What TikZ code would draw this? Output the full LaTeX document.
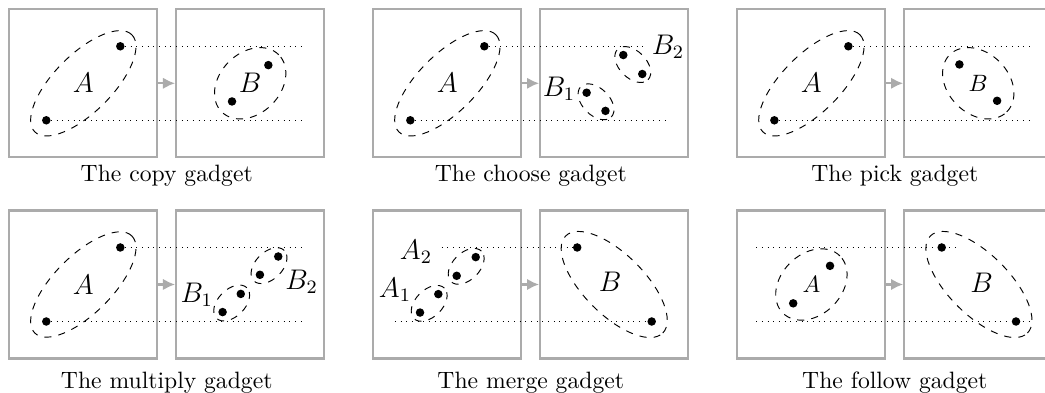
\documentclass[tikz,border=0pt]{standalone}
\usepackage{tikz}
\usetikzlibrary{arrows.meta, positioning}
\tikzset{
	blob/.pic={
			\draw[dashed] (0,0) ellipse (#1);
		}
}
\tikzset{
	frame/.style={draw=black!33, line width=0.9pt, rectangle, minimum size=2.2cm, inner sep=0pt}
}
\tikzset{
	elem/.style={circle, fill=black, inner sep=0pt, minimum size=3.6pt},
	flow/.style={draw=black!33, line width=0.9pt, -{Latex[length=1.8mm, width=1.7mm]}},
	setname/.style={font=\large},
	gadget/.style={anchor=base}
}

\begin{document}
\begin{tikzpicture}

			\useasboundingbox (-0.138,-3.489) rectangle (15.392,2.338);

			% copy
			\begin{scope}
				\node[frame] (cpin) at (1.1,1.1) {};
				\node[frame] (cpout) at (3.58,1.1) {};
				\draw[flow] (cpin) -- (cpout);

				\node[elem] (cpa1) at (0.55,0.55) {};
				\node[elem] (cpa2) at (1.65,1.65) {};
				\pic[rotate=45] at (1.1,1.1) {blob={1.02 and 0.43}};
				\node[setname] (cpA) at (1.1,1.1) {$A$};

				\node[elem] (cpb1) at (3.31,0.83) {};
				\node[elem] (cpb2) at (3.85,1.37) {};
				\pic[rotate=45] at (3.58,1.1) {blob={0.6 and 0.45}};
				\node[setname] (cpB) at (3.58,1.1) {$B$};

				\coordinate (cpe1) at (4.35,0.55);
				\coordinate (cpe2) at (4.35,1.65);
				\draw[dotted] (cpa1) -- (cpe1);
				\draw[dotted] (cpa2) -- (cpe2);

				\node[gadget] (cpcap) at (2.34,-0.36) {The copy gadget};
			\end{scope}

			% choose
			\begin{scope}[shift={{(5.41,0)}}]
				\node[frame] (chin) at (1.1,1.1) {};
				\node[frame] (chout) at (3.58,1.1) {};
				\draw[flow] (chin) -- (chout);

				\node[elem] (cha1) at (0.55,0.55) {};
				\node[elem] (cha2) at (1.65,1.65) {};
				\pic[rotate=45] at (1.1,1.1) {blob={1.02 and 0.43}};
				\node[setname] (chA) at (1.1,1.1) {$A$};

				\node[elem] (chb1) at (3.17,0.96) {};
				\node[elem] (chb2) at (3.45,0.69) {};
				\pic[rotate=-45] at (3.31,0.825) {blob={0.32 and 0.2}};
				\node[setname] (chB1) at (2.76,1.015) {$B_1$};

				\node[elem] (chb3) at (3.715,1.52) {};
				\node[elem] (chb4) at (3.997,1.238) {};
				\pic[rotate=-45] at (3.856,1.379) {blob={0.32 and 0.2}};
				\node[setname] (chB2) at (4.38,1.64) {$B_2$};

				\coordinate (che1) at (4.36,0.55);
				\coordinate (che2) at (4.08,1.65);
				\draw[dotted] (cha1) -- (che1);
				\draw[dotted] (cha2) -- (che2);

				\node[gadget] (chcap) at (2.34,-0.36) {The choose gadget};
			\end{scope}

			% pick
			\begin{scope}[shift={{(10.82,0)}}]
				\node[frame] (pkin) at (1.1,1.1) {};
				\node[frame] (pkout) at (3.58,1.1) {};
				\draw[flow] (pkin) -- (pkout);

				\node[elem] (pka1) at (0.55,0.55) {};
				\node[elem] (pka2) at (1.65,1.65) {};
				\pic[rotate=45] at (1.1,1.1) {blob={1.02 and 0.43}};
				\node[setname] (pkA) at (1.1,1.1) {$A$};

				\node[elem] (pkb1) at (3.30,1.38) {};
				\node[elem] (pkb2) at (3.86,0.84) {};
				\pic[rotate=-45] at (3.58,1.1) {blob={0.6 and 0.45}};
				\node (pkB) at (3.58,1.1) {$B$};

				\coordinate (pke1) at (4.37,0.55);
				\coordinate (pke2) at (4.37,1.65);
				\draw[dotted] (pka1) -- (pke1);
				\draw[dotted] (pka2) -- (pke2);

				\node[gadget] (pkcap) at (2.34,-0.36) {The pick gadget};
			\end{scope}

			% multiply
			\begin{scope}[shift={{(0,-2.99)}}]
				\node[frame] (mlin) at (1.1,1.1) {};
				\node[frame] (mlout) at (3.58,1.1) {};
				\draw[flow] (mlin) -- (mlout);

				\node[elem] (mla1) at (0.55,0.55) {};
				\node[elem] (mla2) at (1.65,1.65) {};
				\pic[rotate=45] at (1.1,1.1) {blob={1.02 and 0.43}};
				\node[setname] (mlA) at (1.1,1.1) {$A$};

				\node[elem] (mlb1) at (3.17,0.69) {};
				\node[elem] (mlb2) at (3.44,0.96) {};
				\pic[rotate=45] at (3.305,0.825) {blob={0.32 and 0.2}};
				\node[setname] (mlB1) at (2.785,0.947) {$B_1$};

				\node[elem] (mlb3) at (3.725,1.244) {};
				\node[elem] (mlb4) at (3.997,1.516) {};
				\pic[rotate=45] at (3.86,1.38) {blob={0.32 and 0.2}};
				\node[setname] (mlB2) at (4.345,1.144) {$B_2$};

				\coordinate (mle1) at (4.35,0.55);
				\coordinate (mle2) at (4.35,1.65);
				\draw[dotted] (mla1) -- (mle1);
				\draw[dotted] (mla2) -- (mle2);

				\node[gadget] (mlcap) at (2.34,-0.445) {The multiply gadget};
			\end{scope}

			% merge
			\begin{scope}[shift={{(5.41,-2.99)}}]
				\node[frame] (mgin) at (1.1,1.1) {};
				\node[frame] (mgout) at (3.58,1.1) {};
				\draw[flow] (mgin) -- (mgout);

				\node[elem] (mga1) at (0.694,0.683) {};
				\node[elem] (mga2) at (0.966,0.957) {};
				\pic[rotate=45] at (0.83,0.82) {blob={0.32 and 0.2}};
				\node[setname] (mgA1) at (0.322,1.02) {$A_1$};

				\node[elem] (mga3) at (1.239,1.229) {};
				\node[elem] (mga4) at (1.522,1.507) {};
				\pic[rotate=45] at (1.38,1.37) {blob={0.32 and 0.2}};
				\node[setname] (mgA2) at (0.634,1.59) {$A_2$};

				\node[elem] (mgb1) at (3.03,1.65) {};
				\node[elem] (mgb2) at (4.137,0.55) {};
				\pic[rotate=-45] at (3.58,1.1) {blob={1.02 and 0.45}};
				\node[setname] (mgB) at (3.52,1.14) {$B$};

				\coordinate (mgs1) at (0.32,0.55);
				\coordinate (mgs2) at (1.016,1.65);
				\draw[dotted] (mgs1) -- (mgb2);
				\draw[dotted] (mgs2) -- (mgb1);

				\node[gadget] (mgcap) at (2.34,-0.445) {The merge gadget};
			\end{scope}

			% follow
			\begin{scope}[shift={{(10.82,-2.99)}}]
				\node[frame] (fwin) at (1.1,1.1) {};
				\node[frame] (fwout) at (3.58,1.1) {};
				\draw[flow] (fwin) -- (fwout);

				\node[elem] (fwa1) at (0.83,0.82) {};
				\node[elem] (fwa2) at (1.377,1.377) {};
				\pic[rotate=45] at (1.1,1.1) {blob={0.6 and 0.45}};
				\node (fwA) at (1.1,1.1) {$A$};

				\node[elem] (fwb1) at (3.037,1.65) {};
				\node[elem] (fwb2) at (4.141,0.55) {};
				\pic[rotate=-45] at (3.59,1.1) {blob={1.02 and 0.45}};
				\node[setname] (fwB) at (3.63,1.12) {$B$};

				\coordinate (fws1) at (0.28,0.55);
				\coordinate (fws2) at (0.28,1.65);
				\coordinate (fwe1) at (4.374,0.55);
				\coordinate (fwe2) at (3.26,1.65);
				\draw[dotted] (fws1) -- (fwe1);
				\draw[dotted] (fws2) -- (fwe2);

				\node[gadget] (fwcap) at (2.34,-0.445) {The follow gadget};
			\end{scope}

		\end{tikzpicture}
\end{document}
